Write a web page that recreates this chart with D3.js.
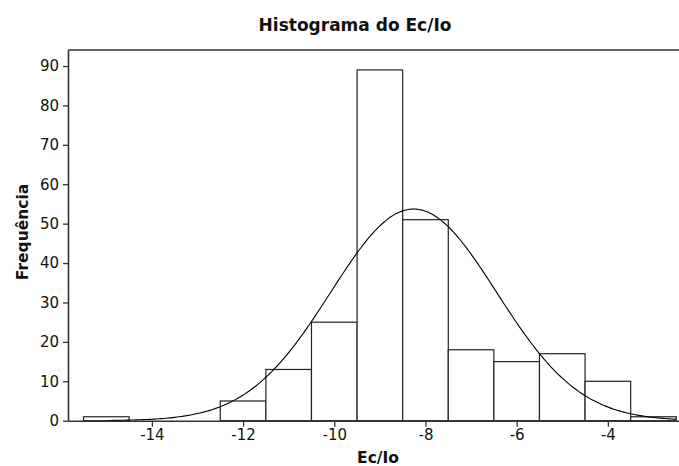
<!DOCTYPE html>
<html>
<head>
<meta charset="utf-8">
<script src="https://cdn.jsdelivr.net/npm/d3@7"></script>
<style>
  html, body { margin: 0; padding: 0; background: #fff; }
  svg { display: block; font-family: "DejaVu Sans", Verdana, sans-serif; }
</style>
</head>
<body>
<svg id="chart" width="679" height="466"></svg>
<script>
// ---- data ----
const binCenters = [-15, -14, -13, -12, -11, -10, -9, -8, -7, -6, -5, -4, -3];
const counts     = [1, 0, 0, 5, 13, 25, 89, 51, 18, 15, 17, 10, 1];
const binWidth = 1;
const xTicks = [-14, -12, -10, -8, -6, -4];
const yTicks = [0, 10, 20, 30, 40, 50, 60, 70, 80, 90];
const fitMean = -8.26;
const fitSd = 1.82;
const fitRange = [-15, -2.5];
const titleText = "Histograma do Ec/Io";
const xLabel = "Ec/Io";
const yLabel = "Frequência";

// ---- layout ----
const svg = d3.select("#chart");
const mLeft = 68, mRight = 679, mTop = 50, mBottom = 420.7;

const x = d3.scaleLinear().domain([-15.84, -2.44]).range([mLeft, mRight]);
const y = d3.scaleLinear().domain([0, 94.06]).range([mBottom, mTop]);

const nTotal = d3.sum(counts);

// bars
svg.append("g").selectAll("rect")
  .data(binCenters.map((c, i) => ({c, n: counts[i]})))
  .join("rect")
  .attr("x", d => x(d.c - binWidth / 2))
  .attr("y", d => y(d.n))
  .attr("width", d => x(d.c + binWidth / 2) - x(d.c - binWidth / 2))
  .attr("height", d => y(0) - y(d.n))
  .attr("fill", "#fff")
  .attr("stroke", "#222")
  .attr("stroke-width", 1.2);

// fitted normal curve
const pdf = v => nTotal * binWidth * Math.exp(-0.5 * ((v - fitMean) / fitSd) ** 2) / (fitSd * Math.sqrt(2 * Math.PI));
const pts = d3.range(fitRange[0], fitRange[1] + 1e-9, 0.05).map(v => [v, pdf(v)]);
svg.append("path")
  .datum(pts)
  .attr("fill", "none")
  .attr("stroke", "#000")
  .attr("stroke-width", 1.1)
  .attr("d", d3.line().x(d => x(d[0])).y(d => y(d[1])).curve(d3.curveMonotoneX));

// axes
const xAxis = svg.append("g").attr("transform", `translate(0,${mBottom})`)
  .call(d3.axisBottom(x).tickValues(xTicks).tickSize(6).tickSizeOuter(0).tickFormat(d => d));
const yAxis = svg.append("g").attr("transform", `translate(${mLeft},0)`)
  .call(d3.axisLeft(y).tickValues(yTicks).tickSize(5).tickSizeOuter(0).tickPadding(4));
[xAxis, yAxis].forEach(g => {
  g.select(".domain").attr("stroke", "#333").attr("stroke-width", 1.6);
  g.selectAll(".tick line").attr("stroke", "#333").attr("stroke-width", 1.3);
  g.selectAll(".tick text").attr("font-family", "DejaVu Sans").attr("font-size", 15).attr("fill", "#111");
});
xAxis.selectAll(".tick text").attr("dy", "0.71em").attr("y", 9);

// top frame line
svg.append("line")
  .attr("x1", mLeft).attr("x2", mRight).attr("y1", mTop).attr("y2", mTop)
  .attr("stroke", "#333").attr("stroke-width", 1.6);

// titles
svg.append("text").attr("x", 355).attr("y", 31).attr("text-anchor", "middle")
  .attr("font-weight", "bold").attr("font-size", 17).attr("fill", "#111").text(titleText);
svg.append("text").attr("x", 378).attr("y", 463).attr("text-anchor", "middle")
  .attr("font-weight", "bold").attr("font-size", 15.5).attr("fill", "#111").text(xLabel);
svg.append("text").attr("transform", "translate(28,232) rotate(-90)").attr("text-anchor", "middle")
  .attr("font-weight", "bold").attr("font-size", 15.5).attr("fill", "#111").text(yLabel);
</script>
</body>
</html>
